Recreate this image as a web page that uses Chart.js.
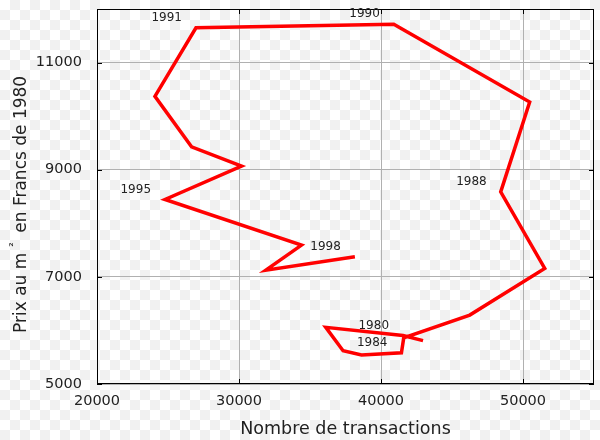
<!DOCTYPE html>
<html>
<head>
<meta charset="utf-8">
<script src="https://cdn.jsdelivr.net/npm/chart.js@4.4.1/dist/chart.umd.min.js"></script>
<style>
    html, body {
        margin: 0;
        padding: 0;
    }
    body {
        width: 600px;
        height: 440px;
        background-color: #ffffff;
        background-image:
            linear-gradient(45deg, #f1f1f1 25%, transparent 25%, transparent 75%, #f1f1f1 75%),
            linear-gradient(45deg, #f1f1f1 25%, transparent 25%, transparent 75%, #f1f1f1 75%);
        background-size: 20px 20px;
        background-position: 0 0, 10px 10px;
    }
    #wrap {
        position: relative;
        width: 600px;
        height: 440px;
    }
</style>
</head>
<body>
<div id="wrap"><canvas id="graph1"></canvas></div>
<script>
// one point per year, 1979 -> 1998
let years = [1979, 1980, 1981, 1982, 1983, 1984, 1985, 1986, 1987, 1988,
             1989, 1990, 1991, 1992, 1993, 1994, 1995, 1996, 1997, 1998];
let transactions = [42960, 41550, 36110, 37330, 38630, 41440, 41600, 46250, 51530, 48430,
                    50470, 40900, 26970, 24080, 26660, 30180, 24790, 34400, 31890, 38160];
let prices = [5810, 5905, 6057, 5621, 5541, 5584, 5860, 6287, 7158, 8586,
              10265, 11714, 11650, 10370, 9426, 9066, 8445, 7592, 7126, 7374];
let labelledYears = [1980, 1984, 1988, 1990, 1991, 1995, 1998];
let xTicks = [20000, 30000, 40000, 50000];
let yTicks = [5000, 7000, 9000, 11000];

let font = "'DejaVu Sans', sans-serif";
let yTitle = ['Prix au m', '\u00b2', 'en Francs de 1980'];

// frame, inward ticks, year labels and the y title, matplotlib style
let framePlugin = {
    id: 'frame',
    afterDatasetsDraw: function (chart) {
        let ctx = chart.ctx;
        let a = chart.chartArea;
        let xs = chart.scales.x;
        let ys = chart.scales.y;
        ctx.save();
        ctx.strokeStyle = '#000000';
        ctx.lineWidth = 1;
        ctx.strokeRect(a.left + 0.5, a.top + 0.5, a.right - a.left - 1, a.bottom - a.top - 1);
        ctx.beginPath();
        xTicks.forEach(function (v) {
            let px = Math.round(xs.getPixelForValue(v)) + 0.5;
            ctx.moveTo(px, a.bottom);
            ctx.lineTo(px, a.bottom - 5);
            ctx.moveTo(px, a.top);
            ctx.lineTo(px, a.top + 5);
        });
        yTicks.forEach(function (v) {
            let py = Math.round(ys.getPixelForValue(v)) + 0.5;
            ctx.moveTo(a.left, py);
            ctx.lineTo(a.left + 5, py);
            ctx.moveTo(a.right, py);
            ctx.lineTo(a.right - 5, py);
        });
        ctx.stroke();

        ctx.fillStyle = '#222222';
        ctx.font = '12px ' + font;
        ctx.textAlign = 'right';
        ctx.textBaseline = 'middle';
        labelledYears.forEach(function (yr) {
            let i = years.indexOf(yr);
            let px = xs.getPixelForValue(transactions[i]);
            let py = ys.getPixelForValue(prices[i]);
            ctx.fillText(String(yr), px - 14, py - 10);
        });

        // y title, rotated, drawn in three parts
        ctx.translate(26, 333);
        ctx.rotate(-Math.PI / 2);
        ctx.textAlign = 'left';
        ctx.textBaseline = 'alphabetic';
        ctx.font = '17px ' + font;
        ctx.fillText(yTitle[0], 0, 0);
        let w = ctx.measureText(yTitle[0]).width;
        ctx.font = '11px ' + font;
        ctx.fillText(yTitle[1], w + 6, -9);
        ctx.font = '17px ' + font;
        ctx.fillText(yTitle[2], w + 20, 0);
        ctx.restore();
    }
};

let ctx = document.getElementById('graph1').getContext('2d');

let points = [];
for (let i = 0; i < years.length; i++) {
    points.push({x: transactions[i], y: prices[i]});
}

let data = {
    datasets: [{
        label: 'Prix',
        data: points,
        showLine: true,
        borderColor: '#ff0000',
        backgroundColor: '#ff0000',
        borderWidth: 3.5,
        borderJoinStyle: 'miter',
        pointRadius: 0,
        tension: 0
    }]
};

let options = {
    responsive: true,
    maintainAspectRatio: false,
    animation: false,
    layout: {
        padding: {left: 0, right: 6, top: 9, bottom: 0}
    },
    plugins: {
        legend: {display: false},
        tooltip: {enabled: false}
    },
    scales: {
        x: {
            type: 'linear',
            min: 20000,
            max: 55000,
            afterBuildTicks: function (scale) {
                scale.ticks = xTicks.map(function (v) { return {value: v}; });
            },
            afterFit: function (scale) {
                scale.height = 56;
                scale.paddingLeft = 0;
                scale.paddingRight = 0;
            },
            grid: {
                color: '#b0b0b0',
                lineWidth: 1,
                drawTicks: false
            },
            border: {display: false},
            ticks: {
                color: '#222222',
                padding: 9,
                maxRotation: 0,
                font: {family: font, size: 14.5},
                callback: function (v) { return String(v); }
            },
            title: {
                display: true,
                text: 'Nombre de transactions',
                color: '#222222',
                font: {family: font, size: 17.5},
                padding: {top: 0, bottom: 0}
            }
        },
        y: {
            type: 'linear',
            min: 5000,
            max: 12000,
            afterBuildTicks: function (scale) {
                scale.ticks = yTicks.map(function (v) { return {value: v}; });
            },
            afterFit: function (scale) {
                scale.width = 97;
                scale.paddingTop = 0;
                scale.paddingBottom = 0;
            },
            grid: {
                color: '#b0b0b0',
                lineWidth: 1,
                drawTicks: false
            },
            border: {display: false},
            ticks: {
                color: '#222222',
                padding: 15,
                font: {family: font, size: 14.5},
                callback: function (v) { return String(v); }
            },
            title: {display: false}
        }
    }
};

let config = {
    type: 'scatter',
    data: data,
    options: options,
    plugins: [framePlugin]
};

let graph1 = new Chart(ctx, config);
</script>
</body>
</html>
